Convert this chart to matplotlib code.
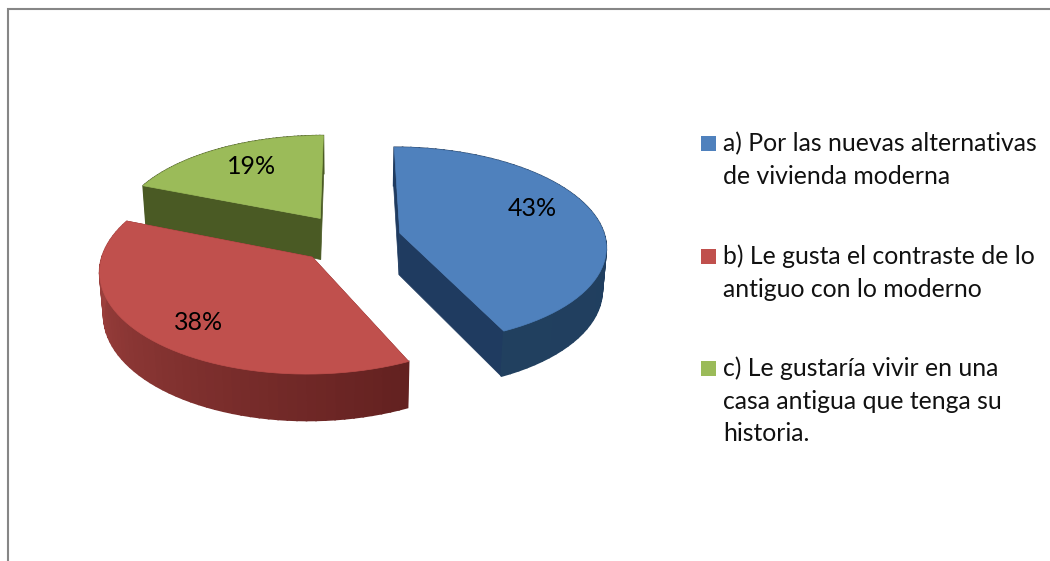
import numpy as np
import matplotlib
matplotlib.use("Agg")
import matplotlib.pyplot as plt
from matplotlib.patches import Polygon, Rectangle

categories = ["a) Por las nuevas alternativas\nde vivienda moderna",
              "b) Le gusta el contraste de lo\nantiguo con lo moderno",
              "c) Le gustaría vivir en una\ncasa antigua que tenga su\nhistoria."]
shares = [43, 38, 19]
top_colors = ["#4f81bd", "#c0504d", "#9bbb59"]
cut_colors = ["#1f3b60", "#6d2422", "#4a5a24"]
arc_colors = [("#1f3b60", "#21405f"), ("#632120", "#a84643"), ("#4a5a24", "#4a5a24")]
label_pos = [(532, 208), (199, 322), (252, 166)]
legend_y = [143.5, 256.5, 368.5]

plt.rcParams["font.family"] = ["Lato", "DejaVu Sans"]
fig = plt.figure(figsize=(10.5, 5.61), dpi=100)
ax = fig.add_axes([0, 0, 1, 1])
ax.set_xlim(0, 1050)
ax.set_ylim(561, 0)
ax.axis("off")

CX, CY, R = 349.0, 238.5, 205.5
K, ST = 0.14, 0.475
CT = np.sqrt(1 - ST ** 2)
EXPL, H = 0.255, 0.235


def project(x, y, z):
    x, y, z = np.atleast_1d(x), np.atleast_1d(y), np.atleast_1d(z)
    up = y * ST + z * CT
    depth = y * CT - z * ST
    s = 1 / (1 + K * depth)
    return np.column_stack([CX + R * x * s, CY - R * up * s])


def mix(c1, c2, t):
    a, b = np.array(matplotlib.colors.to_rgb(c1)), np.array(matplotlib.colors.to_rgb(c2))
    return a + (b - a) * t


fractions = np.array(shares) / sum(shares)
edges = np.concatenate([[0], np.cumsum(fractions)]) * 2 * np.pi
order = [2, 0, 1]
for rank, i in enumerate(order):
    a0, a1 = edges[i], edges[i + 1]
    mid = (a0 + a1) / 2
    ox, oy = EXPL * np.sin(mid), EXPL * np.cos(mid)
    t = np.linspace(a0, a1, 60)
    xs, ys = ox + np.sin(t), oy + np.cos(t)
    top = project(xs, ys, np.zeros_like(t))
    bot = project(xs, ys, -H * np.ones_like(t))
    apex_t = project(ox, oy, 0.0)[0]
    apex_b = project(ox, oy, -H)[0]
    # flat cut faces of the slice
    for end_t, end_b in ((top[0], bot[0]), (top[-1], bot[-1])):
        ax.add_patch(Polygon([apex_t, end_t, end_b, apex_b], closed=True,
                             fc=cut_colors[i], ec=cut_colors[i], lw=0.5, zorder=2 + rank))
    # curved outer wall, shaded along the arc
    for j in range(len(t) - 1):
        c = mix(arc_colors[i][0], arc_colors[i][1], j / (len(t) - 2))
        ax.add_patch(Polygon([top[j], top[j + 1], bot[j + 1], bot[j]], closed=True,
                             fc=c, ec=c, lw=1.2, zorder=2 + rank))
    ax.add_patch(Polygon(np.vstack([apex_t[None, :], top]), closed=True,
                         fc=top_colors[i], ec=top_colors[i], lw=0.5, zorder=2.5 + rank))

for i, p in enumerate(label_pos):
    ax.text(p[0], p[1], f"{shares[i]}%", ha="center", va="center", fontsize=18, color="#000000", zorder=10)

for i, lab in enumerate(categories):
    y = legend_y[i]
    ax.add_patch(Rectangle((701, y - 7.5), 15, 15, fc=top_colors[i], ec="none", zorder=10))
    for n, line in enumerate(lab.split("\n")):
        ax.text(723, y + n * 32.5, line, ha="left", va="center", fontsize=17.8, color="#111111", zorder=10)

ax.plot([8, 8, 1050], [561, 8.5, 8.5], color="#868686", lw=1.5, solid_joinstyle="miter", zorder=1)
fig.savefig("out.png", dpi=100)
